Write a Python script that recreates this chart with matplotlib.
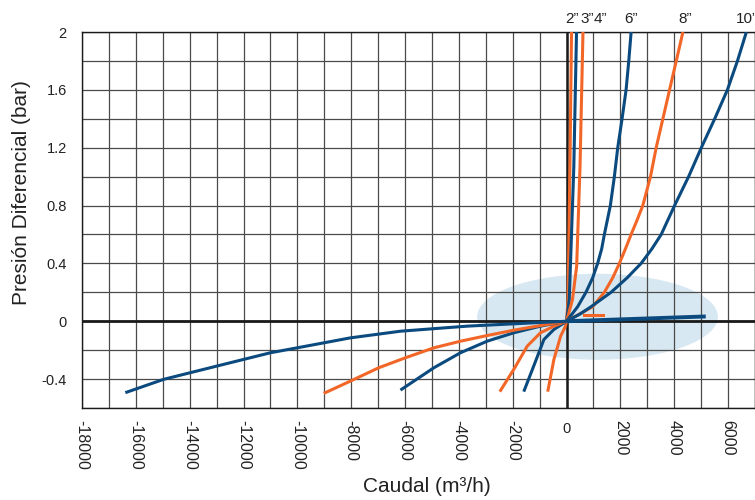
import matplotlib.pyplot as plt
from matplotlib.patches import Ellipse

plt.rcParams['font.family'] = ['Liberation Sans', 'DejaVu Sans']
plt.rcParams['axes.unicode_minus'] = False

BLUE = "#0b4a7e"
ORANGE = "#f26727"

# curves: caudal (m3/h) vs presion diferencial (bar)
sizes = ['2”', '3”', '4”', '6”', '8”', '10”']
size_label_x = [205, 762, 1264, 2379, 4424, 6691]

# positive flow branches
pos_x_2 = [0, 55, 125, 185]
pos_y_2 = [0, 0.15, 1.07, 2.0]
pos_x_3 = [0, 100, 270, 370]
pos_y_3 = [0, 0.15, 1.07, 2.0]
pos_x_4 = [0, 220, 375, 500, 610]
pos_y_4 = [0, 0.15, 0.38, 1.07, 2.0]
pos_x_6 = [0, 410, 720, 969, 1155, 1304, 1404, 1627, 1776, 1901, 2062, 2211, 2311, 2398]
pos_y_6 = [0, 0.1, 0.2, 0.3, 0.4, 0.5, 0.6, 0.8, 1.0, 1.2, 1.4, 1.6, 1.8, 2.0]
pos_x_8 = [0, 969, 1404, 1714, 1963, 2186, 2398, 2621, 2832, 3118, 3329, 3578, 3826, 4075, 4323]
pos_y_8 = [0, 0.1, 0.2, 0.3, 0.4, 0.5, 0.6, 0.7, 0.8, 1.0, 1.2, 1.4, 1.6, 1.8, 2.0]
pos_x_10 = [0, 500, 907, 1652, 2248, 2770, 3168, 3516, 3764, 4012, 4534, 5006, 5503, 5975, 6348, 6680]
pos_y_10 = [0, 0.05, 0.1, 0.2, 0.3, 0.4, 0.5, 0.6, 0.7, 0.8, 1.0, 1.2, 1.4, 1.6, 1.8, 2.0]

# negative flow branches
neg_x_2 = [0, -40, -220, -470, -700]
neg_y_2 = [0, -0.034, -0.103, -0.264, -0.487]
neg_x_3 = [0, -470, -840, -1220, -1590]
neg_y_3 = [0, -0.057, -0.126, -0.31, -0.487]
neg_x_4 = [0, -470, -970, -1460, -1960, -2480]
neg_y_4 = [0, -0.034, -0.08, -0.172, -0.333, -0.487]
neg_x_6 = [0, -970, -1960, -2950, -3940, -4930, -6170]
neg_y_6 = [0, -0.034, -0.08, -0.138, -0.218, -0.322, -0.476]
neg_x_8 = [0, -970, -1960, -2950, -3940, -4930, -5990, -6980, -8030, -9020]
neg_y_8 = [0, -0.03, -0.062, -0.099, -0.138, -0.184, -0.253, -0.322, -0.414, -0.499]
neg_x_10 = [0, -1220, -3690, -6170, -8030, -10010, -11000, -12990, -14970, -16390]
neg_y_10 = [0, -0.011, -0.034, -0.069, -0.115, -0.184, -0.218, -0.31, -0.402, -0.494]

# low flow lines near origin
flat_blue_x = [0, 5170]
flat_blue_y = [0, 0.033]
flat_orange_x = [650, 1370]
flat_orange_y = [0.042, 0.042]

pos_x = [pos_x_2, pos_x_3, pos_x_4, pos_x_6, pos_x_8, pos_x_10]
pos_y = [pos_y_2, pos_y_3, pos_y_4, pos_y_6, pos_y_8, pos_y_10]
neg_x = [neg_x_2, neg_x_3, neg_x_4, neg_x_6, neg_x_8, neg_x_10]
neg_y = [neg_y_2, neg_y_3, neg_y_4, neg_y_6, neg_y_8, neg_y_10]
colors = [ORANGE, BLUE, ORANGE, BLUE, ORANGE, BLUE]

fig = plt.figure(figsize=(7.55, 5.0), dpi=100)
ax = fig.add_axes([0.1086, 0.184, 0.8914, 0.752])

ax.set_xlim(-18000, 7000)
ax.set_ylim(-0.6, 2.0)

# grid every 1000 m3/h and 0.2 bar
ax.set_xticks(range(-18000, 7001, 1000), minor=True)
ax.set_yticks([round(-0.6 + 0.2 * i, 1) for i in range(14)], minor=True)
ax.grid(which='both', color='#4a4a4a', linewidth=0.9)
ax.set_axisbelow(True)

ell = Ellipse((1150, 0.031), 8945, 0.595, facecolor='#d8e8f2', edgecolor='none', zorder=0.3)
ax.add_patch(ell)

ax.axhline(0, color='#1a1a1a', linewidth=2.0, zorder=2)
ax.axvline(0, color='#1a1a1a', linewidth=1.8, zorder=2)

for i in range(len(sizes)):
    ax.plot(pos_x[i], pos_y[i], color=colors[i], linewidth=2.2, zorder=3,
            solid_capstyle='butt', solid_joinstyle='round')
    ax.plot(neg_x[i], neg_y[i], color=colors[i], linewidth=2.2, zorder=3,
            solid_capstyle='butt', solid_joinstyle='round')
    ax.text(size_label_x[i], 2.04, sizes[i], ha='center', va='bottom', fontsize=11,
            color='#222222', clip_on=False)

ax.plot(flat_orange_x, flat_orange_y, color=ORANGE, linewidth=2.2, zorder=3)
ax.plot(flat_blue_x, flat_blue_y, color=BLUE, linewidth=2.8, zorder=3,
        solid_capstyle='butt')

# ticks
xt = list(range(-18000, 6001, 2000))
ax.set_xticks(xt)
ax.set_xticklabels([str(v) for v in xt], fontsize=11.5, color='#222222')
for lab, v in zip(ax.get_xticklabels(), xt):
    if v != 0:
        lab.set_rotation(270)
    else:
        lab.set_fontsize(10.5)
        lab.set_y(-0.007)
yt = [-0.4, 0, 0.4, 0.8, 1.2, 1.6, 2]
ax.set_yticks(yt)
ax.set_yticklabels(['-0.4', '0', '0.4', '0.8', '1.2', '1.6', '2'], fontsize=10.5,
                   color='#222222')
ax.tick_params(which='both', length=0)
ax.tick_params(axis='x', pad=8.5)
ax.tick_params(axis='y', pad=11)

for s in ax.spines.values():
    s.set_color('#1a1a1a')
    s.set_linewidth(1.0)

fig.text(0.029, 0.615, 'Presión Diferencial (bar)', rotation=90, ha='center', va='center',
         fontsize=15, color='#222222')
fig.text(0.566, 0.026, 'Caudal (m³/h)', ha='center', va='center', fontsize=15,
         color='#222222')

fig.savefig('out.png', dpi=100)
